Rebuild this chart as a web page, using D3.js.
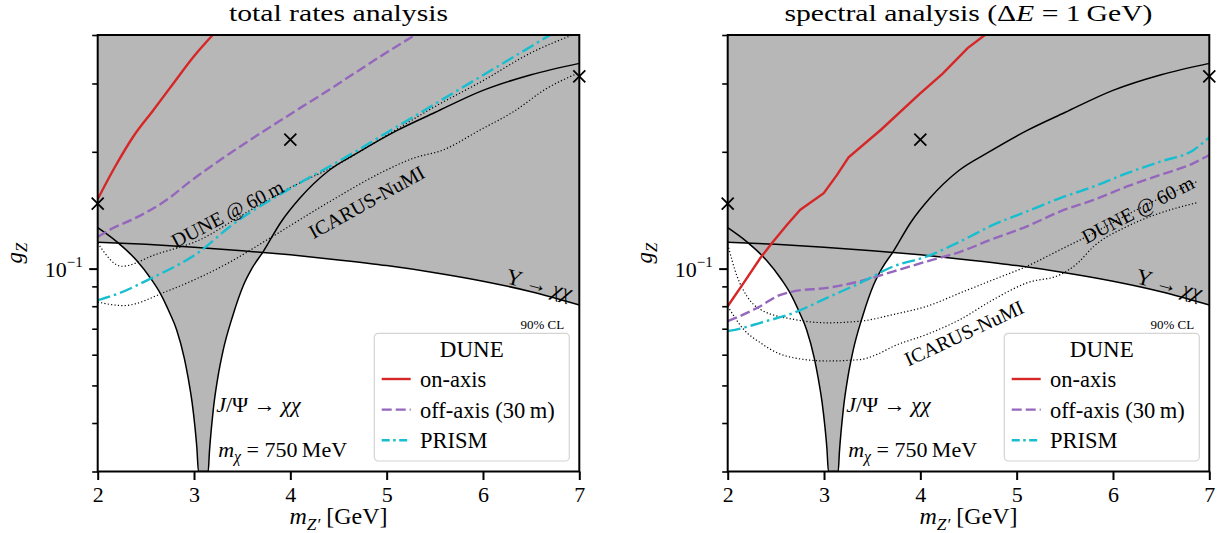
<!DOCTYPE html>
<html><head><meta charset="utf-8">
<script src="https://cdn.jsdelivr.net/npm/d3@7"></script>
<style>
body{margin:0;background:#fff}
svg{display:block}
text{font-family:"Liberation Serif","DejaVu Serif",serif;fill:#000}
</style>
</head><body>
<svg id="chart" width="1222" height="533"></svg>
<script>
// ---------------- data ----------------
const xTicks = [2, 3, 4, 5, 6, 7];
const yMajorTicks = [0.1];
const yMinorTicks = [0.03, 0.04, 0.05, 0.06, 0.07, 0.08, 0.09, 0.2, 0.3, 0.4];
const panelTitles = ["total rates analysis", "spectral analysis"];

// Upsilon -> chi chi bound (both panels)
const upsX = [2, 2.5, 3, 3.5, 4, 4.5, 5, 5.5, 6, 6.5, 7];
const upsY = [0.1170, 0.1155, 0.1135, 0.1112, 0.1085, 0.1053, 0.1018, 0.0976, 0.0928, 0.0872, 0.0806];

// J/Psi -> chi chi bound (both panels)
const jpsiX = [2.0, 2.2, 2.4, 2.56, 2.647, 2.75, 2.82, 2.9, 2.94, 2.98, 3.01, 3.03, 3.046, 3.147, 3.16, 3.2, 3.25, 3.3, 3.4, 3.512, 3.6, 3.72, 3.9, 4.1, 4.4, 4.7, 5.1, 5.5, 6.0, 6.5, 7.0];
const jpsiY = [0.1275, 0.1172, 0.1052, 0.0936, 0.0866, 0.0766, 0.0695, 0.0586, 0.0521, 0.0452, 0.0390, 0.0344, 0.0300, 0.0300, 0.0337, 0.0433, 0.0529, 0.0612, 0.0753, 0.0905, 0.1000, 0.1108, 0.1315, 0.152, 0.179, 0.199, 0.2265, 0.2525, 0.288, 0.316, 0.338];

// benchmark markers
const markerX = [2, 4, 7];
const markerY = [0.147, 0.215, 0.313];

// left panel: total rates
const leftOnX = [2.0, 2.18, 2.37, 2.577, 2.785, 2.993, 3.194];
const leftOnY = [0.151, 0.183, 0.219, 0.256, 0.300, 0.351, 0.400];
const leftOffX = [2.0, 2.128, 2.37, 2.717, 2.958, 3.374, 4.0, 4.412, 4.956, 5.294];
const leftOffY = [0.1206, 0.126, 0.1342, 0.1504, 0.1676, 0.1983, 0.250, 0.290, 0.355, 0.400];
const leftPrismX = [2.0, 2.232, 2.543, 3.062, 3.374, 4.0, 4.56, 5.0, 5.353, 6.0, 6.697];
const leftPrismY = [0.0829, 0.0866, 0.0941, 0.1108, 0.1284, 0.161, 0.1927, 0.2239, 0.2526, 0.3151, 0.400];
const leftDuneX = [2.0, 2.249, 2.6, 3.062, 3.5, 3.963, 4.5, 5.0, 5.5, 6.0, 6.5, 6.93];
const leftDuneY = [0.1164, 0.1014, 0.1087, 0.1187, 0.1375, 0.160, 0.186, 0.2205, 0.2615, 0.305, 0.360, 0.400];
const leftIcarusX = [2.0, 2.266, 2.717, 3.374, 3.789, 4.412, 4.966, 5.277, 5.589, 5.97, 6.316, 6.662, 6.974];
const leftIcarusY = [0.0820, 0.0803, 0.0874, 0.1040, 0.1199, 0.149, 0.1779, 0.1925, 0.2023, 0.2277, 0.2537, 0.2913, 0.318];

// right panel: spectral analysis
const rightOnX = [2.0, 2.166, 2.339, 2.46, 2.616, 2.754, 2.997, 3.135, 3.255, 3.594, 3.993, 4.232, 4.491, 4.67];
const rightOnY = [0.080, 0.0919, 0.1065, 0.1164, 0.1298, 0.1418, 0.1565, 0.1744, 0.1935, 0.2283, 0.2819, 0.3182, 0.370, 0.400];
const rightOffX = [2.0, 2.166, 2.339, 2.512, 2.685, 3.031, 3.377, 3.723, 4.069, 4.415, 4.761, 5.107, 5.453, 5.8, 6.146, 6.491, 6.838, 7.0];
const rightOffY = [0.0732, 0.0762, 0.080, 0.0849, 0.0874, 0.0892, 0.0928, 0.0984, 0.1044, 0.1105, 0.1195, 0.1285, 0.1404, 0.1504, 0.1628, 0.1744, 0.187, 0.1963];
const rightPrismX = [2.0, 2.166, 2.339, 2.685, 3.031, 3.377, 3.723, 4.069, 4.415, 4.761, 5.107, 5.453, 5.8, 6.146, 6.491, 6.838, 7.0];
const rightPrismY = [0.069, 0.0704, 0.0725, 0.0769, 0.0841, 0.0919, 0.1014, 0.1075, 0.1175, 0.1298, 0.1404, 0.152, 0.1628, 0.1762, 0.1887, 0.2023, 0.218];
const rightDuneX = [2.0, 2.097, 2.2, 2.339, 2.685, 3.031, 3.377, 3.723, 4.069, 4.415, 4.761, 5.107, 5.453, 5.8, 6.146, 6.491, 6.872];
const rightDuneY = [0.1155, 0.0956, 0.0849, 0.0785, 0.0740, 0.0725, 0.0732, 0.0762, 0.080, 0.0866, 0.0937, 0.1014, 0.1119, 0.1235, 0.1376, 0.152, 0.1676];
const rightIcarusX = [2.0, 2.166, 2.339, 2.512, 2.685, 3.031, 3.377, 3.55, 3.723, 4.069, 4.415, 4.761, 5.107, 5.453, 5.627, 5.8, 6.146, 6.491, 6.88];
const rightIcarusY = [0.080, 0.0697, 0.0644, 0.0607, 0.0589, 0.0578, 0.0583, 0.0601, 0.0631, 0.0677, 0.0740, 0.0833, 0.0919, 0.0965, 0.1030, 0.1141, 0.1284, 0.1391, 0.148];

const legendLabels = ["on-axis", "off-axis (30\u2009m)", "PRISM"];

// ---------------- drawing ----------------
const FONT = '"Liberation Serif","DejaVu Serif",serif';
const zip = (xs, ys) => xs.map((x, i) => [x, ys[i]]);
const W = 481.6, H = 436.5;
const COL = {red: "#d62728", purple: "#9467bd", cyan: "#17becf", gray: "#b7b7b7"};
const svg = d3.select("#chart");

function rich(t, parts, fs) {
  t.attr("font-family", FONT);
  let shift = 0;
  parts.forEach(p => {
    const ts = t.append("tspan").text(p.t);
    let target = 0;
    if (p.sub) { ts.attr("font-size", fs * 0.72); target = fs * 0.24; }
    if (p.sup) { ts.attr("font-size", fs * 0.68); target = -fs * 0.42; }
    if (p.i) ts.attr("font-style", "italic");
    if (target !== shift) { ts.attr("dy", target - shift); shift = target; }
  });
  return t;
}

function panel(ox, idx, s) {
  const g = svg.append("g").attr("transform", `translate(${ox},35)`);
  const x = d3.scaleLinear().domain([2, 7]).range([0, W]);
  const y = d3.scaleLog().domain([0.03, 0.4]).range([H, 0]);
  const cid = "clip" + idx;
  g.append("clipPath").attr("id", cid).append("rect").attr("width", W).attr("height", H);
  const body = g.append("g").attr("clip-path", `url(#${cid})`);

  const area = d3.area().x(d => x(d[0])).y0(-5).y1(d => y(d[1])).curve(d3.curveMonotoneX);
  const line = d3.line().x(d => x(d[0])).y(d => y(d[1])).curve(d3.curveMonotoneX);
  const lineLin = d3.line().x(d => x(d[0])).y(d => y(d[1]));

  const ups = zip(upsX, upsY), jps = zip(jpsiX, jpsiY);
  body.append("path").attr("d", area(ups)).attr("fill", COL.gray);
  body.append("path").attr("d", area(jps)).attr("fill", COL.gray);
  body.append("path").attr("d", line(ups)).attr("fill", "none").attr("stroke", "#000").attr("stroke-width", 1.5);
  body.append("path").attr("d", line(jps)).attr("fill", "none").attr("stroke", "#000").attr("stroke-width", 1.5);

  // dotted reference curves
  [s.dune, s.icarus].forEach(d => {
    body.append("path").attr("d", line(d)).attr("fill", "none").attr("stroke", "#000")
      .attr("stroke-width", 1.2).attr("stroke-dasharray", "1.2,2.2");
  });

  // DUNE curves
  body.append("path").attr("d", (idx === 1 ? lineLin : line)(s.on)).attr("fill", "none")
    .attr("stroke", COL.red).attr("stroke-width", 2.4);
  body.append("path").attr("d", line(s.off)).attr("fill", "none")
    .attr("stroke", COL.purple).attr("stroke-width", 2.4).attr("stroke-dasharray", "10,4");
  body.append("path").attr("d", line(s.prism)).attr("fill", "none")
    .attr("stroke", COL.cyan).attr("stroke-width", 2.4).attr("stroke-dasharray", "13,4,2.5,4");

  // labels in plot
  const lab = (cx, cy, rot, fs, parts) => {
    const t = g.append("text").attr("transform", `translate(${cx},${cy}) rotate(${rot})`)
      .attr("text-anchor", "middle").attr("dy", "0.35em").attr("font-size", fs);
    rich(t, parts, fs);
  };
  lab(s.duneLab[0], s.duneLab[1], s.duneLab[2], 20, [{t: "DUNE @ 60\u2009m"}]);
  lab(s.icLab[0], s.icLab[1], s.icLab[2], 20, [{t: "ICARUS-NuMI"}]);
  lab(441.5, 249, 15, 22, [{t: "\u03A5 \u2192 "}, {t: "\u03C7\u03C7", i: true}]);

  rich(g.append("text").attr("x", 118.5).attr("y", 377).attr("font-size", 22),
    [{t: "J", i: true}, {t: "/\u03A8 \u2192 "}, {t: "\u03C7\u03C7", i: true}], 22);
  rich(g.append("text").attr("x", 120.5).attr("y", 421.5).attr("font-size", 22),
    [{t: "m", i: true}, {t: "\u03C7", i: true, sub: true}, {t: " = 750\u2009MeV"}], 22);
  rich(g.append("text").attr("x", 466.5).attr("y", 294).attr("text-anchor", "end")
    .attr("font-size", 13), [{t: "90% CL"}], 13);

  // markers
  zip(markerX, markerY).forEach(d => {
    const px = x(d[0]), py = y(d[1]), r = 6;
    g.append("path").attr("d", `M${px - r},${py - r}L${px + r},${py + r}M${px - r},${py + r}L${px + r},${py - r}`)
      .attr("stroke", "#000").attr("stroke-width", 1.8);
  });

  // legend
  const lg = g.append("g").attr("transform", "translate(276.6,298.3)");
  lg.append("rect").attr("width", 195).attr("height", 127.7).attr("rx", 4)
    .attr("fill", "#fff").attr("fill-opacity", 0.85).attr("stroke", "#d4d4d4").attr("stroke-width", 1.2);
  rich(lg.append("text").attr("x", 97.5).attr("y", 24).attr("text-anchor", "middle").attr("font-size", 23), [{t: "DUNE"}], 23);
  const styles = [
    {c: COL.red, d: null}, {c: COL.purple, d: "10,4"}, {c: COL.cyan, d: "8,3.5,2.5,3.5"}
  ];
  legendLabels.forEach((lbl, i) => {
    const yy = 45.7 + i * 30.6;
    const ln = lg.append("line").attr("x1", 7.4).attr("x2", 36.4).attr("y1", yy).attr("y2", yy)
      .attr("stroke", styles[i].c).attr("stroke-width", 2.4);
    if (styles[i].d) ln.attr("stroke-dasharray", styles[i].d);
    rich(lg.append("text").attr("x", 45.7).attr("y", yy + 8).attr("font-size", 22.5), [{t: lbl}], 22.5);
  });

  // spines
  g.append("rect").attr("width", W).attr("height", H).attr("fill", "none")
    .attr("stroke", "#000").attr("stroke-width", 2);

  // axes
  const xa = g.append("g").attr("transform", `translate(0,${H})`)
    .call(d3.axisBottom(x).tickValues(xTicks).tickSize(8.5).tickPadding(6).tickFormat(d3.format("d")));
  xa.select(".domain").remove();
  xa.selectAll("line").attr("stroke-width", 2);
  xa.selectAll("text").attr("font-size", 22).attr("font-family", FONT).attr("dy", null).attr("y", 30.2);

  const ya = g.append("g").call(d3.axisLeft(y).tickValues(yMinorTicks).tickSize(5.5).tickFormat(""));
  ya.select(".domain").remove();
  ya.selectAll("line").attr("stroke-width", 1.6);
  const yb = g.append("g").call(d3.axisLeft(y).tickValues(yMajorTicks).tickSize(8.5).tickFormat(""));
  yb.select(".domain").remove();
  yb.selectAll("line").attr("stroke-width", 2);
  yMajorTicks.forEach(v => {
    rich(g.append("text").attr("x", -15).attr("y", y(v) + 8).attr("text-anchor", "end").attr("font-size", 22),
      [{t: "10"}, {t: "\u22121", sup: true}], 22);
  });

  // axis titles
  rich(g.append("text").attr("x", W / 2).attr("y", 489).attr("text-anchor", "middle").attr("font-size", 24),
    [{t: "m", i: true}, {t: "Z\u2032", i: true, sub: true}, {t: " [GeV]"}], 24);
  rich(g.append("text").attr("transform", `translate(-76,${H / 2}) rotate(-90)`).attr("text-anchor", "middle").attr("font-size", 23),
    [{t: "g", i: true}, {t: "Z", i: true, sub: true}], 23);

  // title
  const tt = g.append("text").attr("x", W / 2).attr("y", -14).attr("text-anchor", "middle").attr("font-size", 23.5);
  if (idx === 0) {
    rich(tt, [{t: panelTitles[0]}], 23.5);
    tt.attr("textLength", 219).attr("lengthAdjust", "spacingAndGlyphs");
  } else {
    rich(tt, [{t: panelTitles[1] + " ("}, {t: "\u0394"}, {t: "E", i: true}, {t: " = 1\u2009GeV)"}], 23.5);
    tt.attr("textLength", 368).attr("lengthAdjust", "spacingAndGlyphs");
  }
}

panel(97.7, 0, {
  on: zip(leftOnX, leftOnY), off: zip(leftOffX, leftOffY), prism: zip(leftPrismX, leftPrismY),
  dune: zip(leftDuneX, leftDuneY), icarus: zip(leftIcarusX, leftIcarusY),
  duneLab: [129.7, 178.6, -27.5], icLab: [268.8, 167, -29]
});
panel(727.7, 1, {
  on: zip(rightOnX, rightOnY), off: zip(rightOffX, rightOffY), prism: zip(rightPrismX, rightPrismY),
  dune: zip(rightDuneX, rightDuneY), icarus: zip(rightIcarusX, rightIcarusY),
  duneLab: [410.1, 174.5, -27.5], icLab: [236.3, 298, -25]
});
</script>
</body></html>
